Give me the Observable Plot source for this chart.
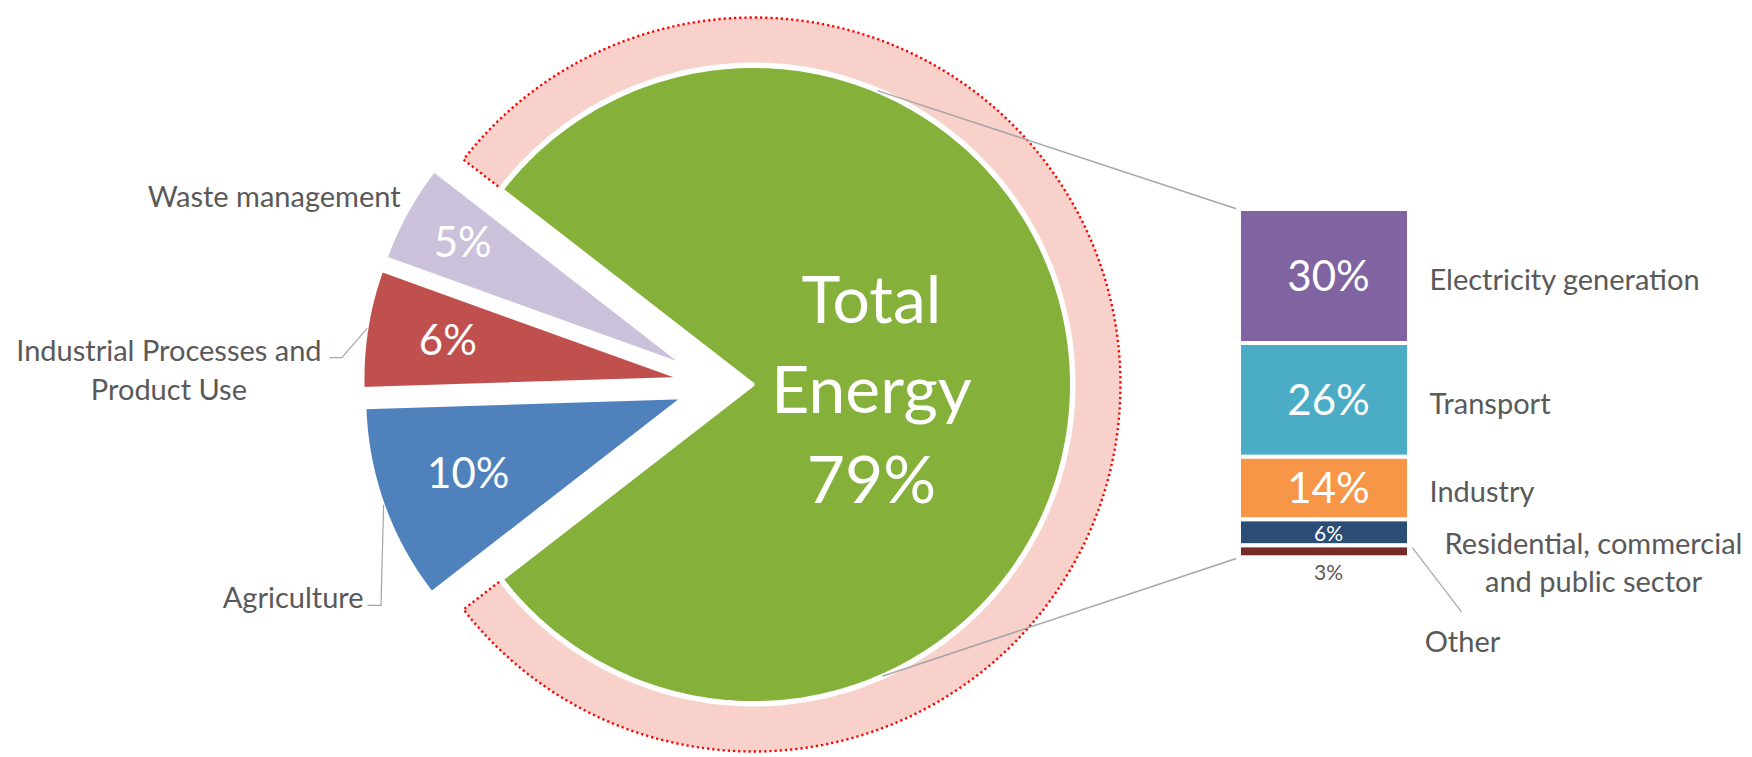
<!DOCTYPE html>
<html>
<head>
<meta charset="utf-8">
<script src="https://cdn.jsdelivr.net/npm/d3@7"></script>
<script src="https://cdn.jsdelivr.net/npm/@observablehq/plot@0.6"></script>
<style>
  html, body { margin: 0; padding: 0; background: #ffffff; }
  #chart svg { display: block; }
</style>
</head>
<body>
<div id="chart"></div>
<script>
// ---------------- DATA ----------------
const pieCategories = ["Total Energy", "Waste management", "Industrial Processes and Product Use", "Agriculture"];
const pieValues = [79, 5, 6, 10];
const pieLabels = ["Total\nEnergy\n79%", "5%", "6%", "10%"];
const pieNames = ["", "Waste management", "Industrial Processes and\nProduct Use", "Agriculture"];

const barCategories = ["Electricity generation", "Transport", "Industry", "Residential, commercial and public sector", "Other"];
const barValues = [30.4, 25.8, 14.2, 5.9, 2.7];
const barLabels = ["30%", "26%", "14%", "6%", "3%"];
const barNames = ["Electricity generation", "Transport", "Industry", "Residential, commercial\nand public sector", "Other"];

const pieColors = ["#85B03A", "#CCC1DA", "#C0504D", "#4F81BD"];
const barColors = ["#8064A2", "#4BACC6", "#F79646", "#2C4D75", "#772C2A"];

// ---------------- LAYOUT ----------------
const W = 1752, H = 757;
const C = [719, 384], R = 318;
const explode = [34, 39, 39, 39];
const labelRadius = [118, 254, 236, 228];
const ringInner = 322, ringOuter = 367;
const FONT = "Lato, 'Open Sans', sans-serif";
const GREY = "#595959";
const LINE = "#A6A6A6";
const deg = Math.PI / 180;

function pt(cx, cy, r, a) { return {x: cx + r * Math.cos(a * deg), y: cy - r * Math.sin(a * deg)}; }
function arc(cx, cy, r, s, e) {
  const n = Math.max(6, Math.ceil(Math.abs(e - s)));
  const out = [];
  for (let k = 0; k <= n; k++) out.push(pt(cx, cy, r, s + (e - s) * k / n));
  return out;
}

let a0 = -pieValues[0] * 3.6 / 2;
const slices = pieValues.map((v, i) => {
  const s = a0, e = a0 + v * 3.6; a0 = e;
  const mid = (s + e) / 2;
  const c = pt(C[0], C[1], explode[i], mid);
  return {i, s, e, mid, cx: c.x, cy: c.y, value: v, color: pieColors[i], label: pieLabels[i], name: pieNames[i]};
});
const green = slices[0];

// ring around the main slice
const ringPoly = [...arc(green.cx, green.cy, ringOuter, green.s, green.e), ...arc(green.cx, green.cy, ringInner, green.e, green.s)];
const ringBorder = [pt(green.cx, green.cy, ringInner, green.s), ...arc(green.cx, green.cy, ringOuter, green.s, green.e), pt(green.cx, green.cy, ringInner, green.e)];

// bar geometry
const barX1 = 1239, barX2 = 1409, barTop = 209;
const barTotal = d3.sum(barValues);
const k = 348.3 / barTotal;
let cum = 0;
const bars = barValues.map((v, i) => {
  const y1 = barTop + cum * k; cum += v; const y2 = barTop + cum * k;
  return {i, x1: barX1, x2: barX2, y1, y2, ym: (y1 + y2) / 2, color: barColors[i], label: barLabels[i], name: barNames[i]};
});

// connectors from pie to bar
const connTop = [pt(green.cx, green.cy, 319, 67), {x: barX1 - 4, y: bars[0].y1 - 1}];
const connBot = [pt(green.cx, green.cy, 319, -66), {x: barX1 - 4, y: bars[bars.length - 1].y2 + 1}];

// pie label positions (percent inside, names outside)
const pieText = slices.map(sl => {
  const p = pt(sl.cx, sl.cy, labelRadius[sl.i], sl.mid);
  return {...p, text: sl.label, size: sl.i === 0 ? 66 : 42, lh: sl.i === 0 ? 1.36 : 1};
});
const outerMid = slices.map(sl => pt(sl.cx, sl.cy, R, sl.mid));
const nameOffsets = [null,
  {text: [-6, -18], anchor: "end", leader: null},
  {text: [-198, 39], anchor: "middle", leader: [[0, 0], [-25, 29], [-37, 29]]},
  {text: [-20, 90], anchor: "end", leader: [[0, 0], [-2.6, 100], [-15.6, 100]]}
];
const pieNameText = slices.slice(1).map(sl => {
  const o = nameOffsets[sl.i], m = outerMid[sl.i];
  return {x: m.x + o.text[0], y: m.y + o.text[1], text: sl.name, anchor: o.anchor};
});
const pieLeaders = slices.slice(1).filter(sl => nameOffsets[sl.i].leader).map(sl => {
  const m = outerMid[sl.i];
  return nameOffsets[sl.i].leader.map(([dx, dy]) => ({x: m.x + dx, y: m.y + dy}));
});

// bar name positions
const barNameText = bars.map(b => {
  if (b.i === 3) return {x: barX2 + 184, y: b.ym + 28, text: b.name, anchor: "middle"};
  if (b.i === 4) return {x: barX2 + 53, y: b.ym + 88, text: b.name, anchor: "middle"};
  return {x: barX2 + 20, y: b.ym + 1.5, text: b.name, anchor: "start"};
});
const otherLeader = [{x: barX2 + 3, y: bars[4].y1 + 2}, {x: barX2 + 52, y: bars[4].y1 + 66}];
const barPctText = bars.map(b => ({
  x: (b.x1 + b.x2) / 2 + 4,
  y: b.i === 4 ? b.y2 + 15 : b.ym + 1,
  text: b.label,
  size: b.i >= 3 ? 21 : 42,
  fill: b.i === 4 ? GREY : "#ffffff"
}));

// ---------------- MARKS ----------------
const marks = [];
marks.push(Plot.line(ringPoly, {x: "x", y: "y", fill: "#F8D1CB", stroke: "none", curve: "linear-closed"}));
marks.push(Plot.line(ringBorder, {x: "x", y: "y", stroke: "#FF0000", strokeWidth: 2.4, strokeDasharray: "2.2,3", strokeLinecap: "butt", fill: "none"}));
slices.forEach(sl => {
  const poly = [{x: sl.cx, y: sl.cy}, ...arc(sl.cx, sl.cy, R, sl.s, sl.e)];
  marks.push(Plot.line(poly, {x: "x", y: "y", fill: sl.color, stroke: "#ffffff", strokeWidth: 3, strokeLinejoin: "miter", curve: "linear-closed"}));
});
marks.push(Plot.line(connTop, {x: "x", y: "y", stroke: LINE, strokeWidth: 1.5}));
marks.push(Plot.line(connBot, {x: "x", y: "y", stroke: LINE, strokeWidth: 1.5}));
pieLeaders.forEach(l => marks.push(Plot.line(l, {x: "x", y: "y", stroke: LINE, strokeWidth: 1.2})));
marks.push(Plot.line(otherLeader, {x: "x", y: "y", stroke: LINE, strokeWidth: 1.2}));
bars.forEach(b => marks.push(Plot.rect([b], {x1: "x1", x2: "x2", y1: "y1", y2: "y2", fill: b.color, stroke: "#ffffff", strokeWidth: 4})));

pieText.forEach(t => marks.push(Plot.text([t], {x: "x", y: "y", text: "text", fill: "#ffffff", fontSize: t.size, fontFamily: FONT, lineHeight: t.lh, textAnchor: "middle"})));
pieNameText.forEach(t => marks.push(Plot.text([t], {x: "x", y: "y", text: "text", fill: GREY, fontSize: 29, fontFamily: FONT, lineHeight: 1.34, textAnchor: t.anchor})));
barNameText.forEach(t => marks.push(Plot.text([t], {x: "x", y: "y", text: "text", fill: GREY, fontSize: 29, fontFamily: FONT, lineHeight: 1.32, textAnchor: t.anchor})));
barPctText.forEach(t => marks.push(Plot.text([t], {x: "x", y: "y", text: "text", fill: t.fill, fontSize: t.size, fontFamily: FONT, textAnchor: "middle"})));

const chart = Plot.plot({
  width: W,
  height: H,
  margin: 0,
  x: {domain: [0, W], range: [0, W], axis: null},
  y: {domain: [0, H], range: [0, H], axis: null},
  style: {background: "#ffffff", fontFamily: FONT},
  marks
});
document.getElementById("chart").appendChild(chart);
</script>
</body>
</html>
